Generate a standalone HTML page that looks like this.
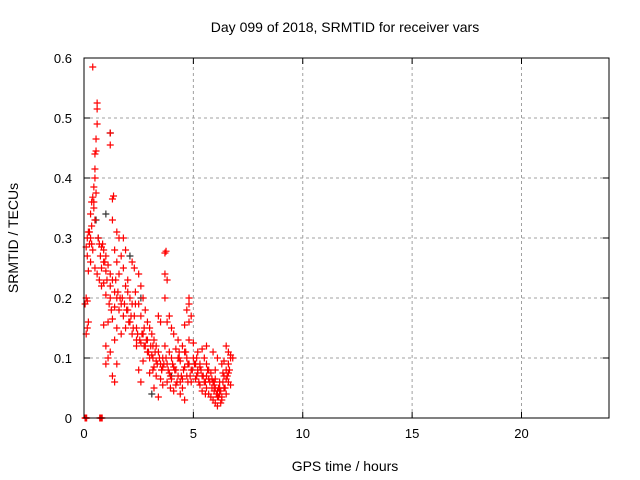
<!DOCTYPE html>
<html><head><meta charset="utf-8"><style>
body{margin:0;background:#fff}
svg{display:block;font-family:"Liberation Sans",sans-serif}
</style></head><body>
<svg id="chart" width="640" height="480">
<text x="345" y="32" text-anchor="middle" font-size="14">Day 099 of 2018, SRMTID for receiver vars</text>
<text x="345" y="471" text-anchor="middle" font-size="14">GPS time / hours</text>
<text transform="translate(18,238) rotate(-90)" text-anchor="middle" font-size="14">SRMTID / TECUs</text>
<g id="grid"></g>
<g id="ticks"></g>
<g id="marks"></g>
<rect x="84" y="58" width="525" height="360" fill="none" stroke="#000" stroke-width="1"/>
</svg>
<script>
const xTicks=[0,5,10,15,20];
const yTicks=[0,0.1,0.2,0.3,0.4,0.5,0.6];
const yTickLabels=["0","0.1","0.2","0.3","0.4","0.5","0.6"];
const redHours=[0.05,0.1,0.75,0.8,0.4,0.6,0.6,0.6,0.55,0.55,0.5,0.5,0.5,0.45,0.55,0.4,0.35,0.45,0.3,0.5,0.35,0.2,0.3,0.25,0.1,0.4,0.15,0.3,0.5,0.2,0.6,0.1,0.15,0.05,0.2,0.15,0.1,0.7,0.8,0.9,1.0,0.9,1.1,0.8,1.0,1.2,0.7,0.9,0.8,1.2,1.35,1.3,1.2,1.2,1.3,1.5,1.6,1.4,1.7,1.5,1.8,1.6,1.3,1.4,1.2,1.0,1.5,1.7,1.9,2.0,1.4,1.6,1.8,1.3,1.1,0.9,1.5,2.1,2.2,2.0,2.3,2.1,1.9,2.4,1.7,2.2,1.4,1.0,1.2,1.1,1.0,1.5,1.3,1.4,2.5,2.6,2.7,2.5,2.8,2.6,2.9,2.4,2.6,2.8,3.0,3.1,3.2,2.9,3.0,2.7,2.5,2.6,3.4,3.5,3.3,3.4,3.6,3.5,3.2,3.3,3.5,3.8,3.2,3.4,3.7,3.9,4.0,3.8,4.1,4.2,3.9,4.3,4.0,4.4,4.2,4.5,4.1,4.4,4.6,3.7,3.75,3.7,3.8,3.7,3.9,4.0,4.1,4.3,4.2,4.5,4.6,4.7,4.4,4.8,4.6,4.9,4.7,4.8,4.8,4.7,4.9,4.8,4.6,4.8,5.0,5.0,5.2,5.1,5.3,5.2,5.4,5.1,5.5,5.3,5.6,5.4,5.5,5.6,5.7,5.8,5.6,5.9,5.7,5.8,5.9,6.0,6.1,6.0,6.1,6.2,6.3,6.2,6.4,6.3,6.5,6.4,6.5,6.6,6.7,6.5,6.6,6.7,6.6,6.5,6.7,6.4,6.6,6.0,6.3,5.9,5.6,5.4,6.1,2.3,2.2,1.9,1.8,3.1,3.3,3.6,2.9,2.7,3.0,4.3,4.5,5.2,5.7,6.2,6.0,3.6,4.9,5.3,2.4,2.0,3.8,3.15,6.8,6.1,5.95,
0.07,0.09,0.12,0.72,0.78,0.83,0.15,0.25,0.35,0.45,0.65,0.75,0.85,0.95,1.05,1.15,1.25,1.45,1.55,1.65,1.75,1.85,1.95,2.05,2.15,2.25,2.35,2.45,2.55,2.65,2.75,2.85,2.95,3.05,3.15,3.25,3.35,3.45,3.55,3.65,3.75,3.85,3.95,4.05,4.15,4.25,4.35,4.45,4.55,4.65,4.75,4.85,4.95,5.05,5.15,5.25,5.35,5.45,5.55,5.65,5.75,5.85,5.95,6.05,6.15,6.25,6.35,6.45,6.55,6.65,2.35,2.75,3.15,3.55,3.95,4.35,4.75,5.15,5.55,5.95,6.35,6.15,5.85,6.25];
const redValues=[0.0,0.0,0.0,0.0,0.585,0.525,0.515,0.49,0.465,0.445,0.44,0.415,0.40,0.385,0.375,0.368,0.36,0.35,0.34,0.33,0.32,0.31,0.30,0.29,0.285,0.28,0.27,0.26,0.25,0.245,0.24,0.2,0.195,0.19,0.16,0.15,0.14,0.29,0.285,0.28,0.27,0.26,0.255,0.25,0.245,0.24,0.23,0.225,0.22,0.22,0.37,0.365,0.475,0.455,0.33,0.31,0.3,0.28,0.27,0.26,0.25,0.24,0.23,0.21,0.2,0.205,0.2,0.19,0.22,0.21,0.185,0.18,0.17,0.165,0.16,0.155,0.15,0.2,0.19,0.18,0.17,0.16,0.15,0.15,0.14,0.14,0.13,0.12,0.11,0.1,0.09,0.09,0.07,0.06,0.24,0.22,0.2,0.19,0.18,0.17,0.16,0.13,0.125,0.12,0.15,0.14,0.13,0.11,0.1,0.095,0.08,0.06,0.17,0.16,0.12,0.11,0.1,0.09,0.085,0.07,0.065,0.06,0.05,0.035,0.12,0.11,0.1,0.09,0.085,0.08,0.075,0.07,0.065,0.06,0.055,0.05,0.045,0.04,0.03,0.275,0.278,0.24,0.23,0.2,0.17,0.15,0.14,0.13,0.115,0.12,0.11,0.1,0.095,0.09,0.085,0.08,0.07,0.2,0.19,0.18,0.17,0.16,0.155,0.13,0.125,0.1,0.11,0.09,0.085,0.075,0.07,0.065,0.06,0.055,0.05,0.045,0.1,0.09,0.08,0.075,0.07,0.06,0.04,0.035,0.03,0.025,0.02,0.05,0.045,0.04,0.035,0.06,0.05,0.03,0.04,0.07,0.065,0.06,0.055,0.08,0.09,0.1,0.11,0.12,0.105,0.095,0.075,0.08,0.09,0.11,0.12,0.115,0.1,0.25,0.26,0.28,0.3,0.105,0.095,0.085,0.13,0.14,0.075,0.1,0.065,0.08,0.065,0.05,0.065,0.055,0.06,0.09,0.12,0.23,0.16,0.08,0.1,0.035,0.06,
0.0,0.0,0.0,0.0,0.0,0.0,0.3,0.31,0.29,0.36,0.3,0.27,0.29,0.26,0.23,0.19,0.18,0.23,0.21,0.2,0.2,0.19,0.18,0.16,0.17,0.15,0.19,0.14,0.13,0.14,0.12,0.13,0.11,0.12,0.1,0.11,0.09,0.1,0.08,0.09,0.1,0.08,0.07,0.09,0.08,0.06,0.1,0.07,0.08,0.11,0.09,0.07,0.08,0.09,0.07,0.06,0.08,0.07,0.06,0.08,0.06,0.05,0.045,0.04,0.05,0.045,0.06,0.05,0.07,0.08,0.21,0.15,0.12,0.08,0.05,0.11,0.06,0.1,0.04,0.055,0.075,0.035,0.065,0.025];
const darkHours=[0.55,0.65,1.2,2.1,2.6,3.1,4.0,1.0];
const darkValues=[0.33,0.3,0.475,0.27,0.2,0.04,0.07,0.34];
const X0=84,X1=609,Y0=418,Y1=58,XMAX=24,YMAX=0.6;
function sx(h){return X0+(X1-X0)*h/XMAX;}
function sy(v){return Y0-(Y0-Y1)*v/YMAX;}
const NS="http://www.w3.org/2000/svg";
function mk(t,a,p){const e=document.createElementNS(NS,t);for(const k in a)e.setAttribute(k,a[k]);p.appendChild(e);return e;}
const grid=document.getElementById('grid'),ticks=document.getElementById('ticks'),marks=document.getElementById('marks');
xTicks.forEach((t,i)=>{const x=sx(t);
 if(t>0){const g=mk('line',{x1:x,x2:x,y1:Y0,y2:Y1,stroke:'#a0a0a0','stroke-dasharray':'3,3'},grid);
 
 }
 mk('line',{x1:x,x2:x,y1:Y0,y2:Y0-6,stroke:'#000'},ticks);
 mk('line',{x1:x,x2:x,y1:Y1,y2:Y1+6,stroke:'#000'},ticks);
 const l=mk('text',{x:x,y:Y0+20,'text-anchor':'middle','font-size':'13'},ticks);l.textContent=String(t);
 
 });
yTicks.forEach((t,i)=>{const y=sy(t);
 if(t>0&&t<YMAX){const g=mk('line',{x1:X0,x2:X1,y1:y,y2:y,stroke:'#a0a0a0','stroke-dasharray':'3,3'},grid);
 
 }
 mk('line',{x1:X0,x2:X0+6,y1:y,y2:y,stroke:'#000'},ticks);
 mk('line',{x1:X1,x2:X1-6,y1:y,y2:y,stroke:'#000'},ticks);
 const l=mk('text',{x:X0-12,y:y+5,'text-anchor':'end','font-size':'13'},ticks);l.textContent=yTickLabels[i];
 
 });
function plus(h,v,c,name){const x=sx(h),y=sy(v);
 const p=mk('path',{d:`M${x-3.5},${y}H${x+3.5}M${x},${y-3.5}V${y+3.5}`,stroke:c,'stroke-width':'1.2',fill:'none'},marks);
 
 }
darkHours.forEach((h,i)=>plus(h,darkValues[i],'#333','dark-point'));
redHours.forEach((h,i)=>plus(h,redValues[i],'#ff0000','red-point'));
</script>
</body></html>
